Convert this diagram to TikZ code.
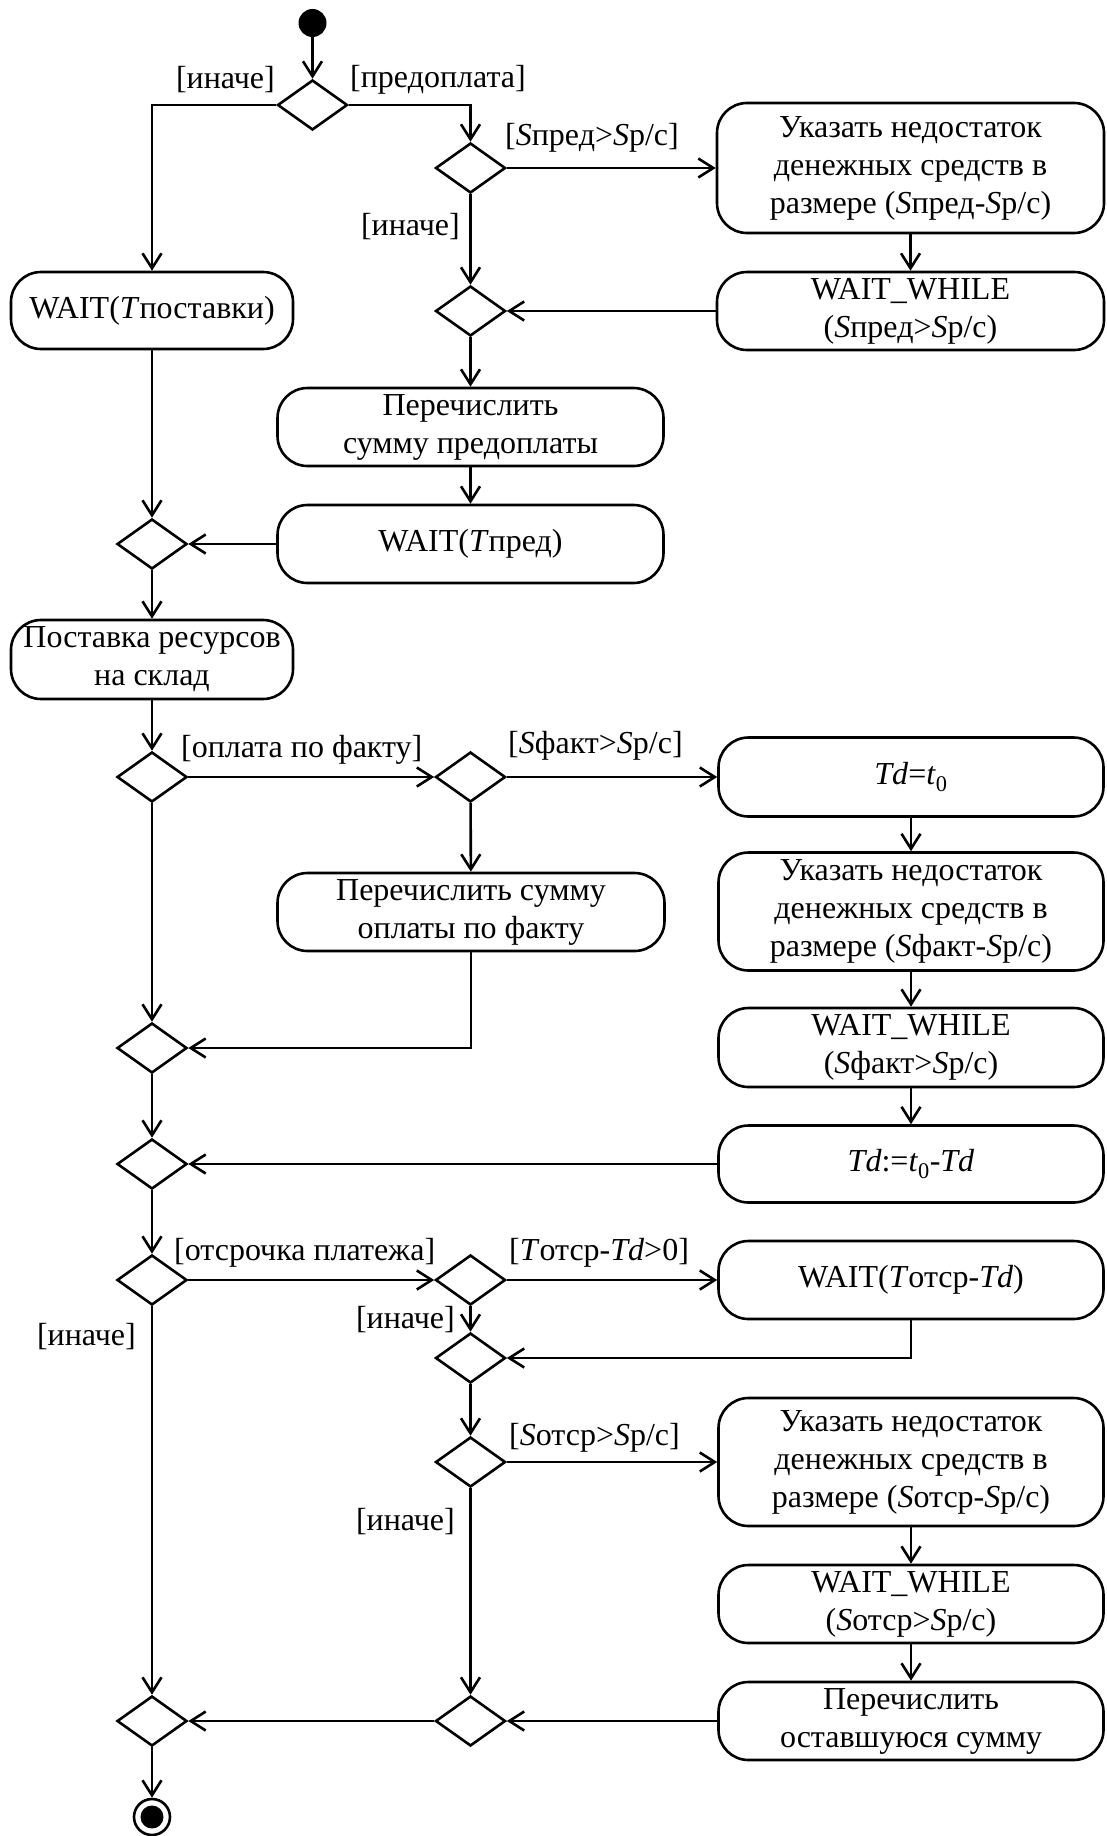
\documentclass[tikz,border=0pt]{standalone}
\usepackage{fontspec}
\setmainfont{Liberation Serif}
\usetikzlibrary{shapes.geometric,arrows.meta}
\begin{document}
\begin{tikzpicture}[x=1pt,y=-1pt,
  every node/.style={font=\fontsize{32}{38}\selectfont},
  act/.style={draw, line width=2.6pt, rounded corners=30pt, align=center, inner sep=0pt},
  dec/.style={draw, diamond, line width=2.6pt, minimum width=70pt, minimum height=50pt, inner sep=0pt},
  flow/.style={line width=2.6pt, -{Straight Barb[length=15pt,width=19pt]}},
  guard/.style={inner sep=0pt}
]
\useasboundingbox (0,0) rectangle (1106,1836);

% initial / final
\node[circle, fill, minimum size=28pt, inner sep=0pt] (start) at (312.5,23) {};
\node[circle, draw, line width=2.6pt, minimum size=36pt, inner sep=0pt] (end) at (152,1817) {};
\node[circle, fill, minimum size=23pt, inner sep=0pt] (endin) at (152,1817) {};

% decisions
\node[dec] (d1) at (312.5,105) {};
\node[dec] (d2) at (470.5,168) {};
\node[dec] (d3) at (470.5,311) {};
\node[dec] (d4) at (152,544) {};
\node[dec] (d5) at (152,777) {};
\node[dec] (d6) at (470.5,777) {};
\node[dec] (d7) at (152,1048) {};
\node[dec] (d8) at (152,1164) {};
\node[dec] (d9) at (152,1280) {};
\node[dec] (d10) at (470.5,1280) {};
\node[dec] (d11) at (470.5,1358) {};
\node[dec] (d12) at (470.5,1462) {};
\node[dec] (d13) at (470.5,1721) {};
\node[dec] (d14) at (152,1721) {};

% activities
\node[act, minimum width=282pt, minimum height=77pt] (w1) at (152,310.5) {WAIT(\textit{T}поставки)};
\node[act, minimum width=387pt, minimum height=130pt] (u1) at (910.5,168) {Указать недостаток\\денежных средств в\\размере (\textit{S}пред-\textit{S}р/с)};
\node[act, minimum width=387pt, minimum height=78pt] (ww1) at (910.5,311) {WAIT\_WHILE\\(\textit{S}пред>\textit{S}р/с)};
\node[act, minimum width=386pt, minimum height=78pt] (p1) at (470.5,427) {Перечислить\\сумму предоплаты};
\node[act, minimum width=386pt, minimum height=78pt] (wp) at (470.5,544) {WAIT(\textit{T}пред)};
\node[act, minimum width=282pt, minimum height=79pt] (post) at (152,659.5) {Поставка ресурсов\\на склад};
\node[act, minimum width=385pt, minimum height=79pt] (td0) at (911,777) {\textit{Td}=\textit{t}\textsubscript{0}};
\node[act, minimum width=387pt, minimum height=78pt] (p2) at (471,912) {Перечислить сумму\\оплаты по факту};
\node[act, minimum width=385pt, minimum height=118pt] (u2) at (911,911.5) {Указать недостаток\\денежных средств в\\размере (\textit{S}факт-\textit{S}р/с)};
\node[act, minimum width=385pt, minimum height=79pt] (ww2) at (911,1047.5) {WAIT\_WHILE\\(\textit{S}факт>\textit{S}р/с)};
\node[act, minimum width=385pt, minimum height=77pt] (tdd) at (911,1164) {\textit{Td}:=\textit{t}\textsubscript{0}-\textit{Td}};
\node[act, minimum width=385pt, minimum height=78pt] (wo) at (911,1280) {WAIT(\textit{T}отср-\textit{Td})};
\node[act, minimum width=385pt, minimum height=128pt] (u3) at (911,1462) {Указать недостаток\\денежных средств в\\размере (\textit{S}отср-\textit{S}р/с)};
\node[act, minimum width=385pt, minimum height=78pt] (ww3) at (911,1604) {WAIT\_WHILE\\(\textit{S}отср>\textit{S}р/с)};
\node[act, minimum width=385pt, minimum height=78pt] (p3) at (911,1721) {Перечислить\\оставшуюся сумму};

% guards
\node[guard, anchor=east] (g1) at (275,80) {[иначе]};
\node[guard, anchor=west] (g2) at (350,80) {[предоплата]};
\node[guard, anchor=west] (g3) at (505,138) {[\textit{S}пред>\textit{S}р/с]};
\node[guard, anchor=east] (g4) at (460,227) {[иначе]};
\node[guard, anchor=west] (g5) at (181,750) {[оплата по факту]};
\node[guard, anchor=west] (g6) at (508,746) {[\textit{S}факт>\textit{S}р/с]};
\node[guard, anchor=west] (g7) at (174,1253) {[отсрочка платежа]};
\node[guard, anchor=west] (g8) at (509,1253) {[\textit{T}отср-\textit{Td}>0]};
\node[guard, anchor=east] (g9) at (455,1320) {[иначе]};
\node[guard, anchor=west] (g10) at (509,1438) {[\textit{S}отср>\textit{S}р/с]};
\node[guard, anchor=east] (g11) at (455,1522) {[иначе]};
\node[guard, anchor=east] (g12) at (136,1337) {[иначе]};

% flows
\draw[flow] (start) -- (d1);
\draw[flow] (d1.west) -| (w1.north);
\draw[flow] (d1.east) -| (d2.north);
\draw[flow] (d2) -- (u1);
\draw[flow] (d2) -- (d3);
\draw[flow] (u1) -- (ww1);
\draw[flow] (ww1) -- (d3);
\draw[flow] (d3) -- (p1);
\draw[flow] (p1) -- (wp);
\draw[flow] (wp) -- (d4);
\draw[flow] (w1) -- (d4);
\draw[flow] (d4) -- (post);
\draw[flow] (post) -- (d5);
\draw[flow] (d5) -- (d6);
\draw[flow] (d6) -- (td0);
\draw[flow] (d6) -- (p2);
\draw[flow] (p2.south) |- (d7.east);
\draw[flow] (d5) -- (d7);
\draw[flow] (td0) -- (u2);
\draw[flow] (u2) -- (ww2);
\draw[flow] (ww2) -- (tdd);
\draw[flow] (tdd) -- (d8);
\draw[flow] (d7) -- (d8);
\draw[flow] (d8) -- (d9);
\draw[flow] (d9) -- (d10);
\draw[flow] (d10) -- (wo);
\draw[flow] (d10) -- (d11);
\draw[flow] (wo.south) |- (d11.east);
\draw[flow] (d11) -- (d12);
\draw[flow] (d12) -- (u3);
\draw[flow] (u3) -- (ww3);
\draw[flow] (ww3) -- (p3);
\draw[flow] (p3) -- (d13);
\draw[flow] (d12) -- (d13);
\draw[flow] (d13) -- (d14);
\draw[flow] (d9) -- (d14);
\draw[flow] (d14) -- (end);
\end{tikzpicture}
\end{document}
